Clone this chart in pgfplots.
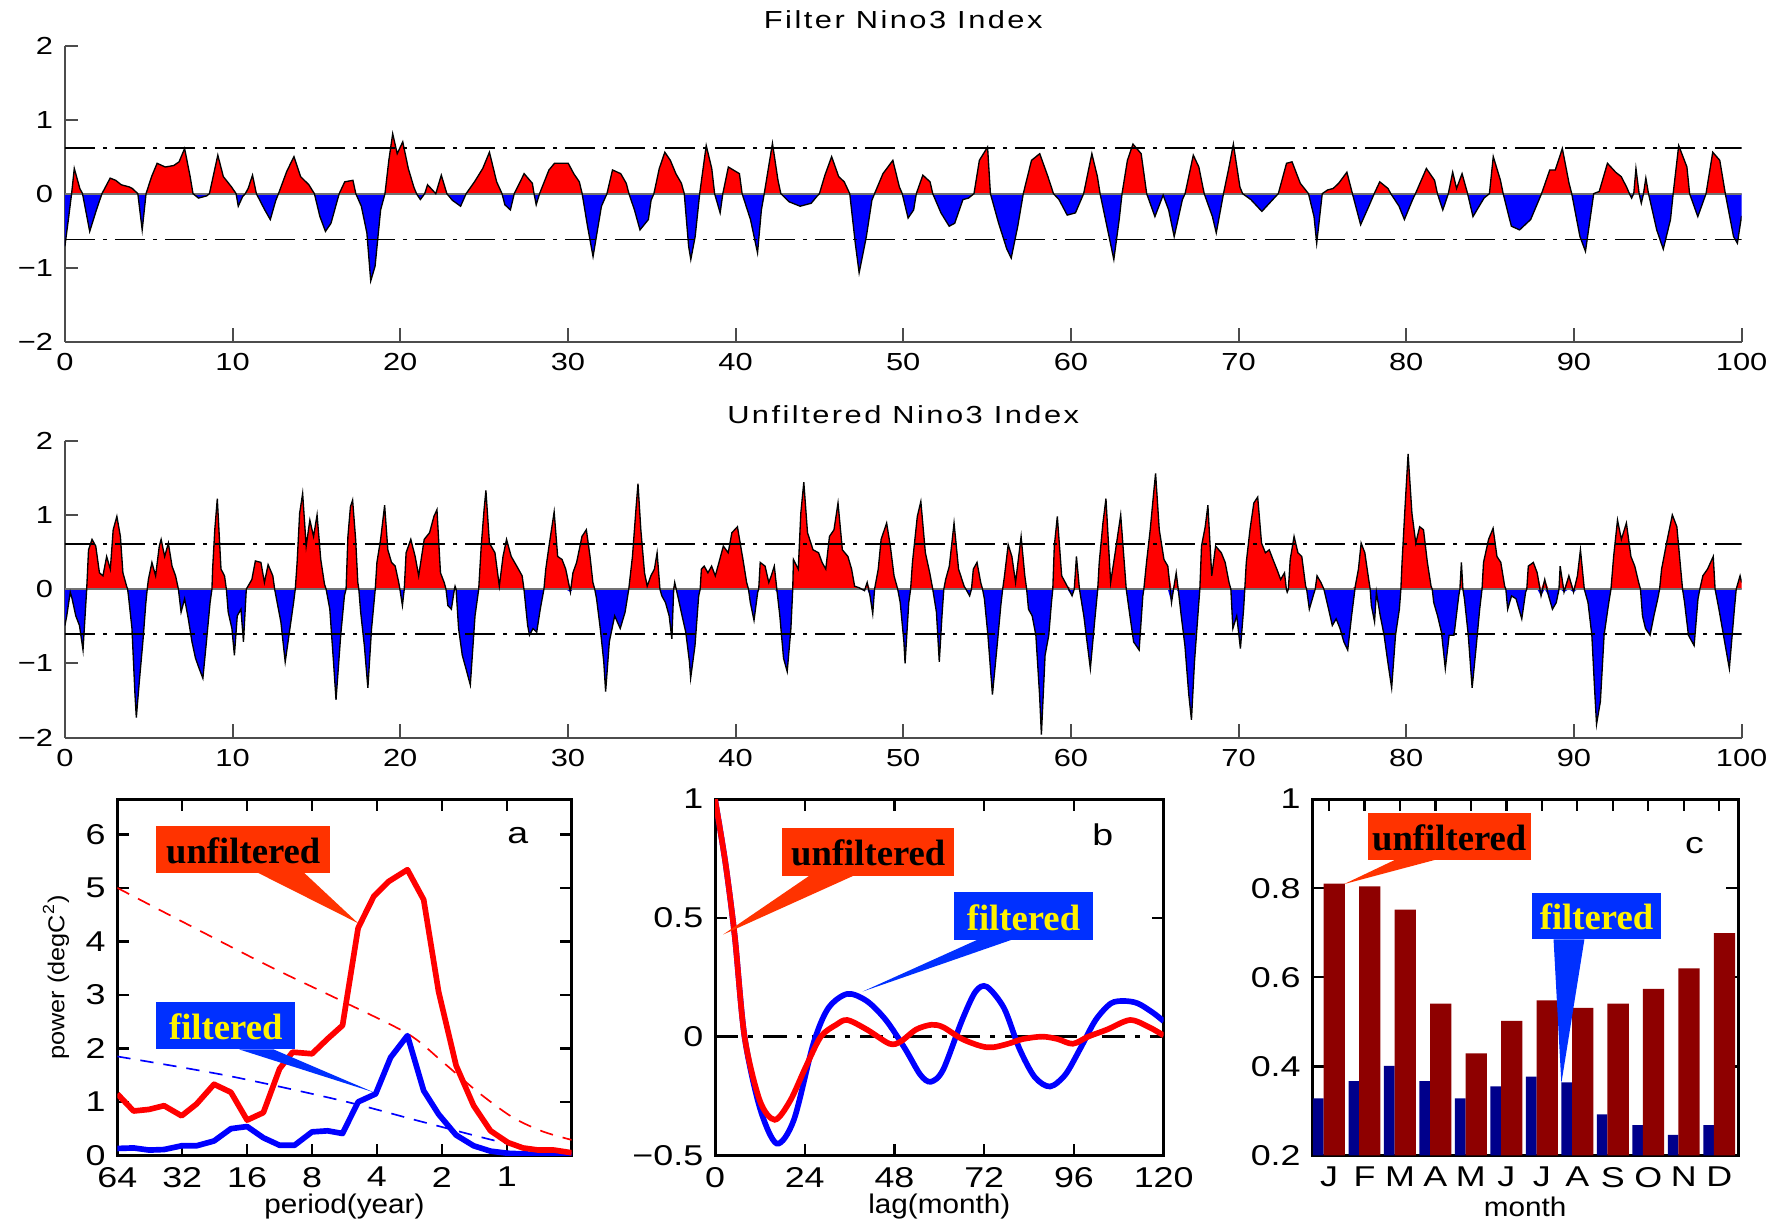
\documentclass[border=0pt]{standalone}
\usepackage{fontspec}
\setmainfont{Liberation Sans}[FakeStretch=1.25]
\newfontfamily\titlefont{Liberation Sans}[FakeStretch=1.25,LetterSpace=10]
\newfontfamily\labelfont{Liberation Sans}[FakeStretch=1.1]
\newfontfamily\callfont{Liberation Serif}
\usepackage{pgfplots}
\pgfplotsset{compat=1.18}
\usepackage{pgfplotstable}
\definecolor{callred}{HTML}{FF3300}
\definecolor{callblue}{HTML}{0030FF}
\definecolor{barblue}{HTML}{00008B}
\definecolor{barred}{HTML}{8E0000}

\pgfplotstableread{
t v
0 -0.71
0.23 -0.31
0.40 0
0.56 0.34
0.89 0.07
1.05 0
1.48 -0.51
1.88 -0.22
2.21 0
2.70 0.21
3.03 0.18
3.36 0.12
3.85 0.09
4.02 0.07
4.35 0
4.61 -0.49
4.84 0
5.17 0.23
5.50 0.41
5.99 0.36
6.49 0.38
6.81 0.43
7.14 0.61
7.47 0.23
7.64 0
7.97 -0.06
8.46 -0.03
8.62 0
9.12 0.52
9.45 0.23
9.94 0.09
10.21 0
10.34 -0.17
10.60 -0.04
10.76 0
10.93 0.07
11.19 0.25
11.42 0
11.92 -0.22
12.25 -0.35
12.58 -0.09
12.74 0
13.23 0.30
13.66 0.50
14.06 0.23
14.55 0.12
14.88 0
15.21 -0.31
15.54 -0.51
15.87 -0.40
16.20 -0.13
16.36 0
16.69 0.16
17.18 0.18
17.35 0
17.68 -0.17
18.01 -0.53
18.24 -1.18
18.50 -0.98
18.83 -0.22
19.09 0
19.32 0.45
19.55 0.81
19.82 0.54
20.15 0.70
20.48 0.34
20.81 0.09
20.97 0
21.20 -0.08
21.46 0
21.63 0.12
22.12 0
22.45 0.25
22.78 0
23.11 -0.09
23.60 -0.17
23.93 0
24.43 0.16
24.92 0.34
25.32 0.56
25.75 0.16
26.07 0
26.24 -0.15
26.57 -0.22
26.80 0
27.39 0.27
27.88 0.14
27.98 0
28.11 -0.15
28.31 0
28.87 0.32
29.20 0.41
29.69 0.41
30.02 0.41
30.35 0.27
30.68 0.16
30.85 0
31.17 -0.44
31.50 -0.85
32.00 -0.17
32.33 0
32.66 0.32
33.15 0.27
33.48 0.14
33.64 0
33.97 -0.22
34.30 -0.49
34.80 -0.35
34.96 -0.09
35.13 0
35.45 0.34
35.78 0.56
36.11 0.45
36.44 0.27
36.77 0.14
36.94 0
37.20 -0.71
37.33 -0.89
37.59 -0.58
37.86 0
38.25 0.65
38.58 0.34
38.75 0
39.08 -0.26
39.24 0
39.57 0.36
40.23 0.27
40.39 0
40.89 -0.35
41.31 -0.80
41.54 -0.22
41.71 0
42.20 0.68
42.53 0.18
42.70 0
43.19 -0.11
43.85 -0.17
44.51 -0.13
44.84 -0.04
45.00 0
45.33 0.25
45.73 0.50
46.15 0.23
46.48 0.16
46.81 0
47.14 -0.67
47.37 -1.07
47.80 -0.58
48.13 -0.09
48.29 0
48.79 0.27
49.38 0.45
49.77 0.09
49.94 0
50.29 -0.33
50.62 -0.22
50.78 0
51.17 0.25
51.60 0.16
51.76 0
52.25 -0.26
52.74 -0.44
53.07 -0.40
53.56 -0.08
53.89 -0.06
54.22 0
54.54 0.45
55.03 0.63
55.20 0
55.69 -0.40
56.18 -0.75
56.44 -0.87
56.83 -0.44
57.16 0
57.65 0.45
58.14 0.54
58.63 0.23
58.96 0
59.29 -0.08
59.78 -0.29
60.27 -0.26
60.76 0
61.25 0.54
61.58 0.23
61.74 0
62.23 -0.53
62.56 -0.89
62.88 -0.35
63.05 0
63.37 0.45
63.70 0.67
64.19 0.54
64.52 0
65.01 -0.31
65.50 -0.02
65.83 -0.22
66.16 -0.58
66.65 -0.08
66.81 0
67.30 0.52
67.63 0.36
67.95 0
68.44 -0.31
68.67 -0.53
69.10 0
69.43 0.36
69.69 0.67
70.08 0.09
70.24 0
70.73 -0.08
71.39 -0.24
72.04 -0.08
72.37 0
72.86 0.41
73.19 0.43
73.68 0.14
74.17 0
74.50 -0.31
74.66 -0.67
74.99 0
75.31 0.05
75.64 0.07
75.97 0.14
76.46 0.29
76.79 0
77.28 -0.42
77.77 -0.17
78.09 0
78.42 0.16
78.91 0.07
79.08 0
79.57 -0.17
79.89 -0.35
80.38 -0.08
80.55 0
81.20 0.34
81.69 0.18
81.86 0
82.18 -0.22
82.51 0
82.77 0.29
83.00 0.07
83.33 0.27
83.66 0
83.98 -0.31
84.64 -0.06
84.96 0
85.19 0.50
85.62 0.18
85.78 0
86.27 -0.44
86.76 -0.49
87.42 -0.35
88.07 0
88.56 0.32
88.89 0.32
89.31 0.61
89.71 0.14
89.87 0
90.36 -0.58
90.69 -0.78
91.18 0
91.51 0.03
92.00 0.41
92.49 0.29
92.82 0.23
93.14 0.09
93.31 0
93.44 -0.06
93.57 0
93.70 0.34
93.89 0
94.02 -0.13
94.15 0
94.29 0.21
94.45 0
94.94 -0.49
95.33 -0.75
95.76 -0.35
95.92 0
96.25 0.65
96.74 0.36
96.90 0
97.39 -0.31
97.88 0
98.28 0.56
98.70 0.45
99.03 0
99.52 -0.58
99.75 -0.67
100 -0.30
}\filt

\pgfplotstableread{
t v
0.00 -0.49
0.11 -0.36
0.32 -0.04
0.43 -0.13
0.65 -0.36
0.87 -0.49
1.08 -0.82
1.30 0
1.41 0.53
1.62 0.67
1.84 0.58
2.06 0.22
2.27 0.18
2.49 0.44
2.71 0.27
2.88 0.80
3.10 0.98
3.31 0.71
3.46 0.22
3.68 0.04
3.74 0
3.79 -0.09
4.00 -0.53
4.18 -1.42
4.26 -1.73
4.44 -1.24
4.65 -0.71
4.83 -0.18
4.91 0
4.98 0.13
5.19 0.36
5.41 0.18
5.63 0.58
5.74 0.67
5.95 0.44
6.17 0.62
6.39 0.31
6.60 0.18
6.77 0
6.93 -0.31
7.14 -0.13
7.36 -0.40
7.58 -0.71
7.79 -0.93
8.01 -1.07
8.23 -1.20
8.44 -0.71
8.66 -0.18
8.77 0
8.81 0.27
8.94 0.80
9.09 1.22
9.31 0.27
9.52 0.18
9.63 0
9.74 -0.31
9.96 -0.53
10.11 -0.89
10.28 -0.36
10.50 -0.27
10.65 -0.71
10.82 0
11.15 0.13
11.36 0.38
11.69 0.36
11.90 0.09
12.12 0.33
12.40 0.18
12.51 0
12.66 -0.18
12.88 -0.44
13.14 -0.98
13.42 -0.53
13.64 -0.18
13.74 0
13.85 0.36
14.00 1.02
14.18 1.29
14.39 0.58
14.61 0.93
14.83 0.71
15.04 1.00
15.26 0.40
15.48 0.07
15.58 0
15.80 -0.27
16.02 -0.98
16.17 -1.49
16.45 -0.62
16.67 -0.09
16.77 0
16.88 0.71
17.03 1.11
17.16 1.20
17.34 0.67
17.47 0.09
17.53 0
17.64 -0.31
17.86 -0.76
18.07 -1.33
18.29 -0.53
18.51 0
18.61 0.36
18.83 0.67
19.07 1.13
19.26 0.53
19.48 0.36
19.70 0.31
19.91 0.09
19.98 0
20.13 -0.22
20.24 0
20.35 0.49
20.63 0.67
20.89 0.44
21.10 0.18
21.43 0.67
21.75 0.76
22.01 0.98
22.19 1.07
22.40 0.22
22.62 0.09
22.73 0
22.84 -0.22
23.05 -0.27
23.23 0
23.27 0.04
23.33 0
23.48 -0.53
23.70 -0.89
23.92 -1.07
24.18 -1.29
24.46 -0.36
24.68 0
24.83 0.58
25.00 1.07
25.11 1.33
25.32 0.62
25.65 0.49
25.91 0.04
26.13 0.44
26.34 0.67
26.62 0.44
26.95 0.31
27.27 0.18
27.38 0
27.60 -0.49
27.71 -0.62
27.92 -0.53
28.14 -0.58
28.35 -0.27
28.57 0
28.68 0.27
28.90 0.62
29.18 1.04
29.39 0.44
29.65 0.40
29.87 0.27
30.15 -0.04
30.30 0.22
30.52 0.36
30.84 0.71
31.10 0.80
31.32 0.44
31.49 0.09
31.60 0
31.71 -0.13
31.93 -0.53
32.14 -0.98
32.25 -1.38
32.47 -0.71
32.79 -0.36
33.12 -0.53
33.41 -0.31
33.63 0
33.85 0.44
34.07 1.11
34.18 1.42
34.35 0.80
34.57 0.22
34.73 0.04
34.95 0.18
35.16 0.27
35.32 0.49
35.49 0
35.60 -0.09
35.82 -0.18
36.04 -0.36
36.20 -0.67
36.31 0
36.37 0.09
36.46 0
36.59 -0.13
36.81 -0.36
37.03 -0.58
37.25 -0.98
37.32 -1.20
37.58 -0.76
37.80 -0.09
37.89 0
37.96 0.27
38.13 0.31
38.35 0.22
38.57 0.31
38.79 0.18
39.01 0.36
39.27 0.58
39.56 0.49
39.78 0.76
40.11 0.84
40.44 0.40
40.66 0.09
40.77 0
40.88 -0.18
41.10 -0.42
41.32 -0.04
41.38 0
41.47 0.36
41.76 0.31
41.98 0.09
42.13 0.18
42.31 0.31
42.48 -0.04
42.64 -0.36
42.86 -0.93
43.08 -1.11
43.30 -0.53
43.41 0
43.45 0.40
43.74 0.27
43.89 1.02
44.07 1.44
44.29 0.76
44.62 0.53
44.95 0.49
45.16 0.36
45.38 0.27
45.60 0.71
45.87 0.80
46.11 1.16
46.37 0.53
46.70 0.44
46.92 0.27
47.10 0.04
47.36 0.02
47.69 -0.02
47.85 0.09
48.02 -0.09
48.18 -0.33
48.29 0
48.51 0.27
48.68 0.67
49.01 0.89
49.23 0.58
49.45 0.18
49.67 0
49.82 -0.18
50.04 -0.71
50.11 -1.00
50.33 -0.18
50.44 0
50.55 0.36
50.84 0.98
51.05 1.18
51.32 0.49
51.58 0.22
51.76 0
51.98 -0.31
52.15 -0.98
52.31 -0.36
52.42 0
52.53 0.13
52.75 0.31
53.03 0.89
53.30 0.27
53.63 0.04
53.74 0
53.96 -0.09
54.07 0
54.18 0.27
54.40 0.36
54.62 0.09
54.73 0
54.84 -0.13
55.05 -0.62
55.32 -1.42
55.60 -0.76
55.82 -0.22
55.93 0
56.04 0.18
56.26 0.60
56.48 0.44
56.70 0.09
57.03 0.71
57.25 0.18
57.36 0
57.47 -0.27
57.69 -0.36
57.91 -0.62
58.13 -1.42
58.24 -1.96
58.46 -0.89
58.68 -0.62
58.84 -0.18
58.92 0
59.01 0.58
59.19 0.98
59.45 0.18
59.78 0.04
60.07 -0.09
60.20 0
60.33 0.44
60.51 0
60.77 -0.36
60.99 -0.76
61.16 -1.07
61.43 -0.40
61.60 0
61.69 0.36
61.91 0.89
62.09 1.22
62.37 0.09
62.64 0.49
62.97 1.00
63.30 0
63.52 -0.36
63.74 -0.71
64.07 -0.82
64.29 -0.09
64.35 0
64.51 0.36
64.73 0.80
64.95 1.33
65.05 1.56
65.27 0.80
65.55 0.40
65.78 0.31
66.00 -0.18
66.12 0
66.28 0.22
66.42 -0.04
66.58 -0.36
66.80 -0.76
67.03 -1.42
67.19 -1.76
67.37 -0.98
67.60 -0.27
67.69 0
67.79 0.58
68.01 0.84
68.17 1.13
68.40 0.18
68.63 0.58
68.97 0.49
69.20 0.36
69.43 0.09
69.54 0
69.66 -0.53
69.89 -0.36
70.11 -0.80
70.30 -0.27
70.37 0
70.46 0.36
70.68 0.80
70.91 1.16
71.14 1.24
71.37 0.62
71.60 0.49
71.83 0.53
72.05 0.40
72.28 0.27
72.51 0.13
72.74 0.22
72.85 0
72.90 -0.04
72.97 0
73.08 0.40
73.31 0.71
73.54 0.49
73.77 0.44
74.00 0.04
74.06 0
74.22 -0.27
74.45 -0.09
74.57 0
74.68 0.18
74.91 0.09
75.09 0
75.37 -0.27
75.59 -0.49
75.82 -0.40
76.05 -0.53
76.28 -0.71
76.51 -0.82
76.74 -0.36
76.96 0.04
77.15 0.27
77.31 0.62
77.53 0.49
77.76 0.13
77.85 0
77.92 -0.22
78.11 -0.44
78.22 -0.04
78.45 -0.36
78.68 -0.62
78.90 -0.98
79.13 -1.33
79.36 -0.62
79.59 -0.27
79.68 0
79.75 0.36
79.93 1.11
80.11 1.82
80.34 1.02
80.57 0.62
80.80 0.84
81.03 0.80
81.26 0.36
81.48 0.04
81.55 0
81.64 -0.18
81.87 -0.36
82.10 -0.58
82.33 -1.07
82.56 -0.62
82.85 -0.62
83.13 -0.09
83.20 0
83.29 0.36
83.38 0
83.47 -0.13
83.70 -0.62
83.93 -1.33
84.16 -0.80
84.38 -0.27
84.52 0
84.61 0.36
84.91 0.67
85.18 0.82
85.41 0.44
85.64 0.36
85.87 0.04
85.94 0
86.05 -0.27
86.28 -0.09
86.55 -0.13
86.89 -0.40
87.12 -0.04
87.19 0
87.28 0.31
87.58 0.36
87.81 0.22
88.04 -0.09
88.26 0.13
88.49 -0.09
88.72 -0.27
88.95 -0.18
89.11 0
89.18 0.31
89.41 -0.04
89.70 0.18
89.98 -0.04
90.21 0.18
90.39 0.53
90.62 0
90.84 -0.18
91.07 -0.62
91.23 -1.33
91.35 -1.82
91.58 -1.51
91.80 -0.62
92.08 -0.18
92.21 0
92.37 0.44
92.60 0.93
92.83 0.67
93.13 0.89
93.40 0.44
93.63 0.31
93.86 0.09
93.97 0
94.09 -0.36
94.27 -0.53
94.54 -0.62
94.77 -0.36
95.00 -0.13
95.11 0
95.23 0.27
95.57 0.67
95.87 1.00
96.14 0.84
96.37 0.27
96.48 0
96.60 -0.18
96.83 -0.62
97.17 -0.76
97.40 -0.13
97.51 0
97.69 0.18
97.97 0.27
98.31 0.44
98.42 0
98.65 -0.27
98.99 -0.71
99.27 -1.07
99.57 -0.27
99.68 0
99.91 0.18
100.0 0.09
}\unfilt

\pgfplotsset{
  tsaxis/.style={
    scale only axis, width=503pt, height=88.8pt,
    xmin=0, xmax=100, ymin=-2, ymax=2,
    axis x line=bottom, axis y line=left,
    axis line style={-, black!70, line width=0.6pt},
    tick align=inside, major tick length=4pt,
    tick style={black!70, line width=0.6pt},
    xtick={0,10,...,100}, xticklabels={0,10,20,30,40,50,60,70,80,90,100},
    ytick={-2,-1,0,1,2}, yticklabels={−2,−1,0,1,2},
    ticklabel style={font=\fontsize{7.4}{8}\selectfont},
    every axis title/.style={at={(axis description cs:0.5,1)}, anchor=center, yshift=7.9pt,
      font=\titlefont\fontsize{7.4}{8}\selectfont},
  },
  panel/.style={
    scale only axis, height=106.9pt,
    axis line style={line width=0.9pt},
    tick align=inside, major tick length=3.5pt,
    tick style={black, line width=0.7pt},
    ticklabel style={font=\fontsize{8.6}{10}\selectfont},
    every axis x label/.style={at={(axis description cs:0.5,-0.143)}, anchor=center,
      font=\labelfont\fontsize{8.1}{9}\selectfont},
  },
  /pgf/number format/assume math mode=true,
}
\tikzset{
  dashdotline/.style={black, line width=0.5pt, dash pattern=on 9pt off 2.5pt on 1pt off 2.5pt},
  calltext/.style={font=\callfont\bfseries\fontsize{11}{12}\selectfont},
}

\begin{document}
\begin{tikzpicture}
\path[use as bounding box] (0,0) rectangle (535.5pt,366.1pt);

% ---------------- Filter Nino3 Index
\begin{axis}[tsaxis, at={(19.47pt,263.6pt)}, anchor=south west, title={Filter Nino3 Index}]
\addplot[draw=none, fill=red] table[x=t, y expr={max(\thisrow{v},0)}] {\filt} \closedcycle;
\addplot[draw=none, fill=blue] table[x=t, y expr={min(\thisrow{v},0)}] {\filt} \closedcycle;
\addplot[black!55, line width=0.6pt] coordinates {(0,0) (100,0)};
\addplot[black, line width=0.4pt] table[x=t, y=v] {\filt};
\addplot[dashdotline] coordinates {(0,0.62) (100,0.62)};
\addplot[dashdotline] coordinates {(0,-0.62) (100,-0.62)};
\end{axis}

% ---------------- Unfiltered Nino3 Index
\begin{axis}[tsaxis, at={(19.47pt,144.8pt)}, anchor=south west, height=89.1pt, title={Unfiltered Nino3 Index}]
\addplot[draw=none, fill=red] table[x=t, y expr={max(\thisrow{v},0)}] {\unfilt} \closedcycle;
\addplot[draw=none, fill=blue] table[x=t, y expr={min(\thisrow{v},0)}] {\unfilt} \closedcycle;
\addplot[black!55, line width=0.6pt] coordinates {(0,0) (100,0)};
\addplot[black, line width=0.4pt] table[x=t, y=v] {\unfilt};
\addplot[dashdotline] coordinates {(0,0.61) (100,0.61)};
\addplot[dashdotline] coordinates {(0,-0.60) (100,-0.60)};
\end{axis}

% ---------------- panel a
\begin{axis}[panel, at={(35.2pt,19.47pt)}, anchor=south west, width=136.3pt,
  xmin=0, xmax=7, ymin=0, ymax=6.66,
  xtick={0,1,2,3,4,5,6}, xticklabels={64,32,16,8,4,2,1},
  ytick={0,1,2,3,4,5,6}, yticklabels={0,1,2,3,4,5,6},
  xlabel={period(year)}, ylabel={power (degC\textsuperscript{2})},
  every axis y label/.style={at={(axis description cs:-0.135,0.5)}, rotate=90, anchor=center,
    font=\labelfont\fontsize{6.9}{8}\selectfont}]
\addplot[red, line width=0.5pt, dash pattern=on 4pt off 3pt, smooth] coordinates {
(0,5.0) (1,4.37) (2.3,3.56) (3.47,2.88) (4.48,2.27) (5.01,1.75) (5.54,1.2) (6.08,0.72) (6.55,0.45) (7,0.29)};
\addplot[blue, line width=0.5pt, dash pattern=on 4pt off 3pt, smooth] coordinates {
(0,1.85) (1.70,1.49) (3.47,1.02) (4.66,0.64) (5.84,0.27) (6.43,0.13) (7,0.06)};
\addplot[blue, line width=1.7pt, line join=round] coordinates {
(0,0.13) (0.25,0.14) (0.49,0.10) (0.72,0.11) (0.99,0.18) (1.22,0.18) (1.49,0.27) (1.75,0.50) (2.0,0.54) (2.25,0.33) (2.50,0.19) (2.73,0.19) (3.0,0.44) (3.24,0.46) (3.47,0.41) (3.71,1.00) (3.98,1.15) (4.21,1.83) (4.47,2.24) (4.72,1.21) (4.95,0.77) (5.22,0.38) (5.49,0.18) (5.75,0.08) (6.02,0.04) (6.43,0.02) (7,0.02)};
\addplot[red, line width=1.7pt, line join=round] coordinates {
(0,1.15) (0.25,0.83) (0.49,0.86) (0.72,0.93) (0.99,0.74) (1.22,0.96) (1.49,1.33) (1.75,1.18) (2.0,0.66) (2.25,0.80) (2.50,1.62) (2.70,1.93) (3.0,1.90) (3.24,2.18) (3.47,2.43) (3.71,4.25) (3.95,4.84) (4.18,5.12) (4.47,5.34) (4.72,4.78) (4.95,3.06) (5.22,1.68) (5.49,0.93) (5.75,0.46) (6.02,0.24) (6.25,0.14) (6.49,0.10) (6.73,0.10) (7,0.05)};
\fill[callred] (axis cs:2.17,5.28) -- (axis cs:2.88,5.28) -- (axis cs:3.71,4.34) -- cycle;
\fill[callred] (axis cs:0.60,5.28) rectangle (axis cs:3.27,6.16);
\node[calltext, text=black] at (axis cs:1.94,5.70) {unfiltered};
\fill[callblue] (axis cs:1.88,1.98) -- (axis cs:2.41,1.98) -- (axis cs:3.95,1.18) -- cycle;
\fill[callblue] (axis cs:0.60,1.98) rectangle (axis cs:2.73,2.86);
\node[calltext, text=yellow] at (axis cs:1.67,2.40) {filtered};
\node[font=\fontsize{9}{10}\selectfont] at (axis cs:6.17,5.97) {a};
\end{axis}

% ---------------- panel b
\begin{axis}[panel, at={(214.5pt,19.47pt)}, anchor=south west, width=134.6pt,
  xmin=0, xmax=120, ymin=-0.5, ymax=1,
  xtick={0,24,48,72,96,120}, xticklabels={0,24,48,72,96,120},
  ytick={-0.5,0,0.5,1}, yticklabels={−0.5,0,0.5,1},
  xlabel={lag(month)}]
\addplot[black, line width=1pt, dash pattern=on 7pt off 3pt on 1.5pt off 3pt] coordinates {(0,0) (120,0)};
\addplot[blue, line width=1.7pt, smooth] coordinates {
(0,1) (2.8,0.73) (5.3,0.42) (7.9,0) (12,-0.30) (16.5,-0.45) (21.1,-0.35) (26.3,-0.03) (30.3,0.12) (35.4,0.18) (40.6,0.15) (45.7,0.07) (50.8,-0.05) (54.9,-0.16) (57.7,-0.19) (61,-0.14) (66.1,0.07) (69.7,0.19) (72.7,0.21) (77.3,0.12) (81.4,-0.05) (85.5,-0.17) (89.6,-0.21) (93.7,-0.16) (97.7,-0.05) (101.8,0.07) (105.9,0.14) (109.5,0.15) (113.1,0.14) (117.2,0.10) (120,0.065)};
\addplot[red, line width=1.7pt, smooth] coordinates {
(0,1) (2.8,0.73) (5.3,0.42) (7.9,0) (12,-0.27) (16,-0.35) (20.1,-0.27) (24.2,-0.13) (28.3,0) (32.4,0.05) (35.4,0.07) (40.6,0.03) (46.7,-0.03) (49.7,-0.02) (53.8,0.03) (57.9,0.05) (61,0.04) (66.1,-0.01) (71.2,-0.04) (74.3,-0.045) (78.4,-0.03) (82.4,-0.01) (87.5,0) (91.6,-0.01) (95.7,-0.03) (99.8,0) (104.9,0.03) (111,0.07) (116.1,0.04) (120,0.005)};
\fill[callred] (axis cs:25.2,0.677) -- (axis cs:37.0,0.677) -- (axis cs:2.2,0.43) -- cycle;
\fill[callred] (axis cs:17.9,0.677) rectangle (axis cs:64.0,0.877);
\node[calltext, text=black] at (axis cs:41,0.772) {unfiltered};
\fill[callblue] (axis cs:70.2,0.408) -- (axis cs:79.4,0.408) -- (axis cs:39.5,0.19) -- cycle;
\fill[callblue] (axis cs:64.0,0.408) rectangle (axis cs:101.1,0.607);
\node[calltext, text=yellow] at (axis cs:82.5,0.502) {filtered};
\node[font=\fontsize{9}{10}\selectfont] at (axis cs:103.7,0.85) {b};
\end{axis}

% ---------------- panel c
\begin{axis}[panel, at={(393.7pt,19.47pt)}, anchor=south west, width=127.7pt,
  xmin=0.53, xmax=12.53, ymin=0.2, ymax=1,
  xtick={1,...,12}, xticklabels={J,F,M,A,M,J,J,A,S,O,N,D},
  ytick={0.2,0.4,0.6,0.8,1}, yticklabels={0.2,0.4,0.6,0.8,1},
  xlabel={month}]
\addplot[ybar, bar width=0.30, bar shift=-0.30, fill=barblue, draw=none] coordinates {
(1,0.328) (2,0.367) (3,0.401) (4,0.367) (5,0.328) (6,0.355) (7,0.377) (8,0.364) (9,0.292) (10,0.268) (11,0.246) (12,0.268)};
\addplot[ybar, bar width=0.60, bar shift=0.15, fill=barred, draw=none] coordinates {
(1,0.810) (2,0.804) (3,0.752) (4,0.541) (5,0.429) (6,0.502) (7,0.548) (8,0.531) (9,0.541) (10,0.574) (11,0.620) (12,0.699)};
\fill[callred] (axis cs:2.87,0.864) -- (axis cs:4.01,0.864) -- (axis cs:1.42,0.809) -- cycle;
\fill[callred] (axis cs:2.10,0.864) rectangle (axis cs:6.68,0.969);
\node[calltext, text=black] at (axis cs:4.39,0.914) {unfiltered};
\fill[callblue] (axis cs:7.33,0.685) -- (axis cs:8.20,0.685) -- (axis cs:7.55,0.362) -- cycle;
\fill[callblue] (axis cs:6.71,0.685) rectangle (axis cs:10.37,0.790);
\node[calltext, text=yellow] at (axis cs:8.54,0.735) {filtered};
\node[font=\fontsize{9}{10}\selectfont] at (axis cs:11.3,0.896) {c};
\end{axis}
\end{tikzpicture}
\end{document}
